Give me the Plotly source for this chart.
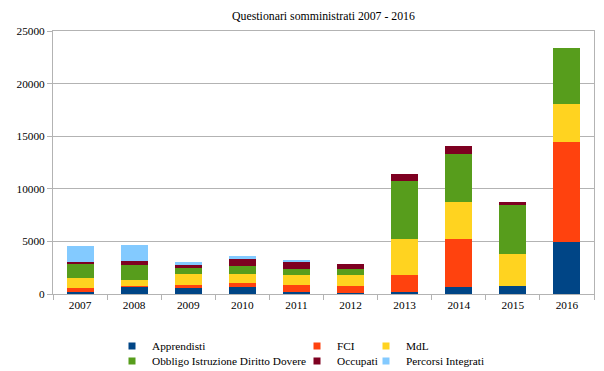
import plotly.graph_objects as go

years = ["2007", "2008", "2009", "2010", "2011", "2012", "2013", "2014", "2015", "2016"]
apprendisti = [160, 730, 605, 670, 160, 125, 220, 640, 795, 4900]
fci = [415, 40, 285, 415, 670, 605, 1625, 4550, 0, 9550]
mdl = [955, 540, 985, 860, 985, 1050, 3375, 3565, 2990, 3630]
obbligo = [1335, 1430, 570, 730, 570, 635, 5475, 4520, 4710, 5260]
occupati = [160, 415, 320, 635, 670, 445, 700, 795, 255, 0]
percorsi = [1525, 1495, 285, 285, 110, 0, 0, 0, 0, 0]

series_names = ["Apprendisti", "FCI", "MdL", "Obbligo Istruzione Diritto Dovere", "Occupati", "Percorsi Integrati"]
series_values = [apprendisti, fci, mdl, obbligo, occupati, percorsi]
colors = ["#004586", "#ff420e", "#ffd320", "#579d1c", "#7e0021", "#83caff"]
y_ticks = [0, 5000, 10000, 15000, 20000, 25000]

FONT = "Liberation Serif, Times New Roman, serif"
GRID = "#b3b3b3"
FS = 11.3

fig = go.Figure()
for name, vals, col in zip(series_names, series_values, colors):
    fig.add_trace(go.Bar(x=years, y=vals, name=name, marker=dict(color=col, line=dict(width=0)),
                         showlegend=False, width=0.5))

# legend entries (one small legend per entry, laid out like the original)
legend_ids = ["legend", "legend2", "legend3", "legend4", "legend5", "legend6"]
text_x = [152, 337, 406, 152, 337, 406]
text_y = [346, 346, 346, 361, 361, 361]
L, R, T, B = 53, 10, 31, 77
W, H = 604, 371
pw, ph = W - L - R, H - T - B
legend_layouts = {}
for i, (name, col, lid) in enumerate(zip(series_names, colors, legend_ids)):
    fig.add_trace(go.Scatter(x=[None], y=[None], mode="markers", name=name,
                             marker=dict(symbol="square", size=7, color=col),
                             showlegend=True, legend=lid))
    lx = (text_x[i] - 40) / W
    ly = 1 - text_y[i] / H
    legend_layouts[lid] = dict(x=lx, y=ly, xref="container", yref="container",
                               xanchor="left", yanchor="middle",
                               bgcolor="rgba(0,0,0,0)", itemwidth=30,
                               font=dict(family=FONT, size=FS, color="#000000"))

fig.update_layout(
    width=W, height=H,
    margin=dict(l=L, r=R, t=T, b=B, autoexpand=False),
    barmode="stack",
    plot_bgcolor="white", paper_bgcolor="white",
    title=dict(text="Questionari somministrati 2007 - 2016", x=(L + pw / 2) / W, xanchor="center",
               y=1 - 16 / H, yanchor="middle", font=dict(family=FONT, size=11.8, color="#000000")),
    font=dict(family=FONT, size=FS, color="#000000"),
    xaxis=dict(type="category", tickson="boundaries", ticks="outside", ticklen=5, tickcolor=GRID,
               showline=True, linecolor=GRID, linewidth=1, mirror=True, showgrid=False,
               automargin=False, tickfont=dict(family=FONT, size=FS)),
    yaxis=dict(range=[0, 25000], tickvals=y_ticks, ticktext=[str(v) for v in y_ticks],
               ticks="outside", ticklen=5, tickcolor=GRID, showline=True, linecolor=GRID,
               linewidth=1, mirror=True, showgrid=True, gridcolor=GRID, gridwidth=1,
               automargin=False, zeroline=False, tickfont=dict(family=FONT, size=FS)),
    **legend_layouts,
)

fig.write_html("out.html", config={"displayModeBar": False},
               post_script="document.body.style.margin='0';")
